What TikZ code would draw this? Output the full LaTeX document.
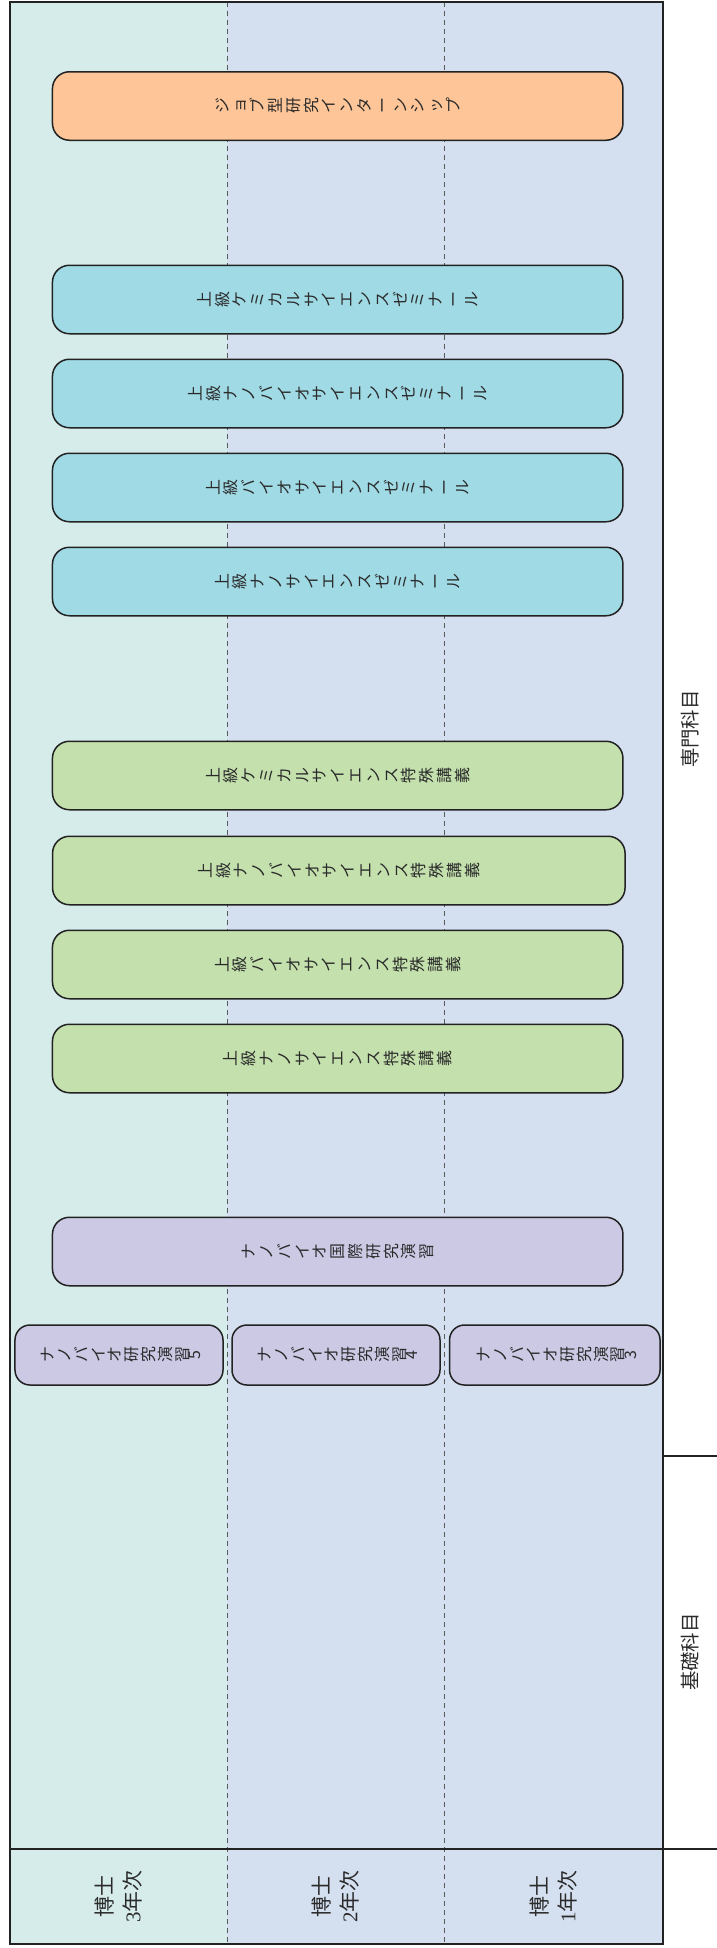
\documentclass[tikz,border=0pt]{standalone}
\usepackage{fontspec}
\setmainfont{Liberation Serif}
\newfontfamily\cjk{Noto Sans CJK JP}
\usepackage{graphicx}

\definecolor{bgteal}{HTML}{D6ECEA}
\definecolor{bgblue}{HTML}{D4DFEF}
\definecolor{corange}{HTML}{FDC598}
\definecolor{ccyan}{HTML}{A0DAE5}
\definecolor{cgreen}{HTML}{C3E0AD}
\definecolor{cpurple}{HTML}{CCC9E5}
\definecolor{linec}{HTML}{222222}
\definecolor{dashc}{HTML}{5A5A5A}
\definecolor{textc}{HTML}{2A2A2A}

\ExplSyntaxOn
\NewDocumentCommand\tate{O{17.8bp}m}{
  \tl_map_inline:nn {#2}{
    \makebox[#1]{\rotatebox[origin=c]{90}{\makebox[1em]{\rule[-0.12em]{0pt}{1em}\smash{##1}}}}
  }
}
\NewDocumentCommand\tatedigit{O{8.4bp}m}{
  \makebox[#1]{\rotatebox[origin=c]{90}{\makebox[0.6em]{\rule[-0.12em]{0pt}{1em}\smash{#2}}}}
}
\ExplSyntaxOff

\tikzset{
  frame/.style={draw=linec, line width=1.5bp},
  gridline/.style={draw=dashc, line width=0.9bp, dash pattern=on 4.5bp off 4.5bp},
  course/.style={draw=linec, line width=1.5bp, rounded corners=17bp, minimum height=68.5bp,
    inner sep=0pt, text=textc, font=\cjk\fontsize{16}{16}\selectfont},
  smallcourse/.style={course, rounded corners=15bp, minimum height=60bp},
  hdr/.style={rotate=90, align=center, text=textc, font=\cjk\fontsize{21}{28}\selectfont},
  cat/.style={rotate=90, text=textc, font=\cjk\fontsize{19.5}{20}\selectfont},
}

\begin{document}
\begin{tikzpicture}[x=1bp,y=-1bp]
\useasboundingbox (0,0) rectangle (717,1948);

% backgrounds
\fill[bgteal] (10,2) rectangle (227,1944);
\fill[bgblue] (227,2) rectangle (663,1944);

% dashed year separators
\draw[gridline] (227,2) -- (227,1944);
\draw[gridline] (444,2) -- (444,1944);

% frame and rules
\draw[frame] (10,2) rectangle (663,1944);
\draw[frame] (10,1849) -- (717,1849);
\draw[frame] (663,1456) -- (717,1456);

% year headers
\node[hdr] (y3) at (118.5,1896.5) {博士\\{\rmfamily 3}年次};
\node[hdr] (y2) at (335.5,1896.5) {博士\\{\rmfamily 2}年次};
\node[hdr] (y1) at (553.5,1896.5) {博士\\{\rmfamily 1}年次};

% category labels
\node[cat] (senmon) at (690,729) {専門科目};
\node[cat] (kiso) at (690,1652) {基礎科目};

% courses
\node[course, fill=corange, minimum width=570.5bp] (job) at (337.7,106) {\tate{ジョブ型研究インターンシップ}};

\node[course, fill=ccyan, minimum width=570.5bp] (s1) at (337.7,299.5) {\tate{上級ケミカルサイエンスゼミナール}};
\node[course, fill=ccyan, minimum width=570.5bp] (s2) at (337.7,393.5) {\tate{上級ナノバイオサイエンスゼミナール}};
\node[course, fill=ccyan, minimum width=570.5bp] (s3) at (337.7,487.5) {\tate{上級バイオサイエンスゼミナール}};
\node[course, fill=ccyan, minimum width=570.5bp] (s4) at (337.7,581.5) {\tate{上級ナノサイエンスゼミナール}};

\node[course, fill=cgreen, minimum width=570.5bp] (l1) at (337.7,775.5) {\tate{上級ケミカルサイエンス特殊講義}};
\node[course, fill=cgreen, minimum width=572.5bp] (l2) at (338.8,870.5) {\tate{上級ナノバイオサイエンス特殊講義}};
\node[course, fill=cgreen, minimum width=570.5bp] (l3) at (337.7,964.5) {\tate{上級バイオサイエンス特殊講義}};
\node[course, fill=cgreen, minimum width=570.5bp] (l4) at (337.7,1058.5) {\tate{上級ナノサイエンス特殊講義}};

\node[course, fill=cpurple, minimum width=570.5bp] (intl) at (337.7,1251.5) {\tate{ナノバイオ国際研究演習}};

\node[smallcourse, fill=cpurple, minimum width=208bp] (r5) at (119,1355) {\tate[16.8bp]{ナノバイオ研究演習}\tatedigit{5}};
\node[smallcourse, fill=cpurple, minimum width=208bp] (r4) at (336,1355) {\tate[16.8bp]{ナノバイオ研究演習}\tatedigit{4}};
\node[smallcourse, fill=cpurple, minimum width=210.5bp] (r3) at (554.8,1355) {\tate[16.8bp]{ナノバイオ研究演習}\tatedigit{3}};
\end{tikzpicture}
\end{document}
